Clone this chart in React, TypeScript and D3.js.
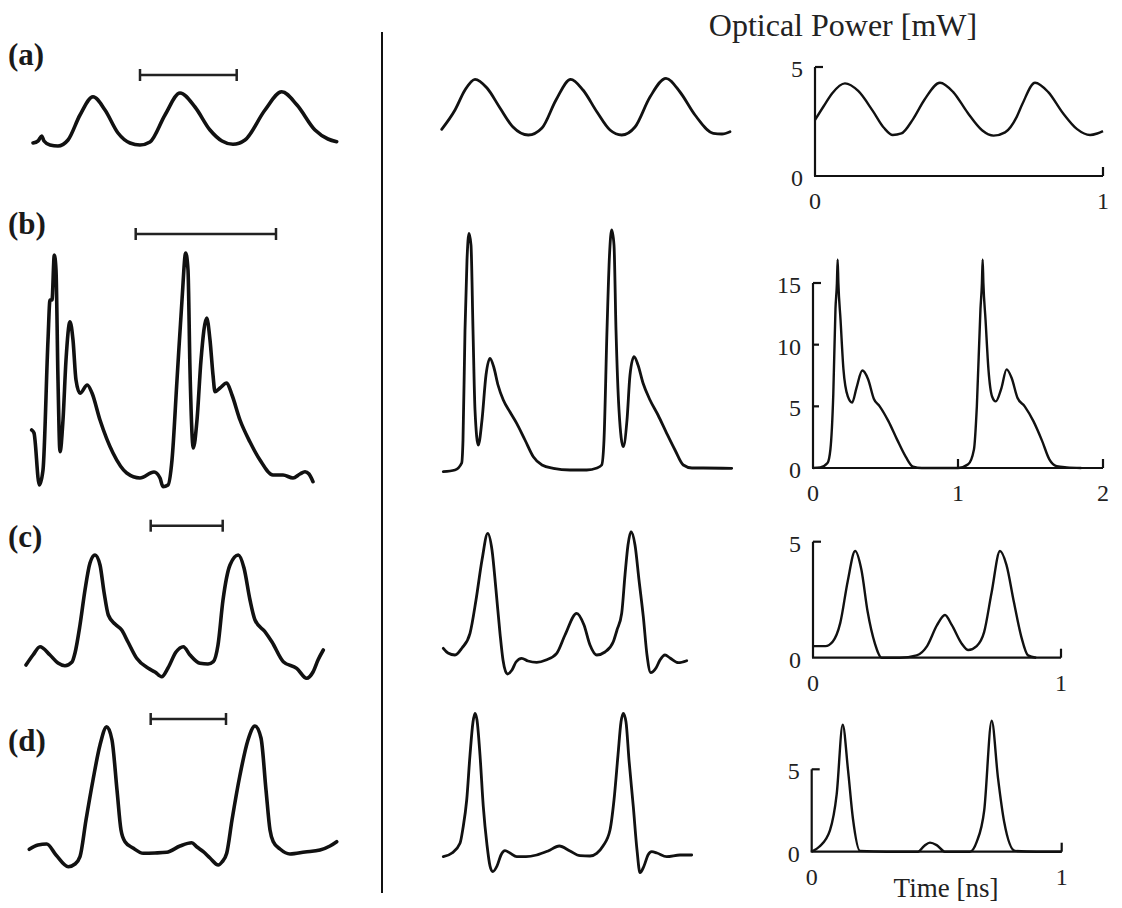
import React from "react";
import * as d3 from "d3";

// ---------- DATA ----------
// Left column (measured traces), arbitrary units: [time, intensity]
const leftA: [number, number][] = [
  [1.3, 0.7], [1.8, 0.9], [2.17, 1.4], [2.4, 0.9], [3.0, 0.5], [3.8, 0.4], [4.8, 1.0], [6.0, 3.5],
  [7.3, 5.33], [8.5, 4.0], [9.8, 1.7], [11.0, 0.7], [12.0, 0.5], [13.0, 0.8], [14.5, 3.5], [16.0, 5.7],
  [17.5, 4.3], [19.0, 2.0], [20.2, 0.9], [21.3, 0.57], [22.5, 1.0], [24.5, 4.0], [26.17, 5.83],
  [27.7, 4.5], [29.5, 2.0], [30.8, 1.1], [31.67, 0.83],
];
const leftB: [number, number][] = [
  [1.17, 6.0], [1.4, 5.7], [1.93, 0.5], [2.3, 2.0], [2.8, 15.0], [3.0, 19.0], [3.2, 19.0], [3.43, 23.5],
  [3.6, 22.0], [3.8, 11.0], [4.0, 3.83], [4.3, 7.0], [4.6, 13.0], [5.0, 16.83], [5.3, 15.0], [5.6, 11.0],
  [6.0, 9.67], [6.73, 10.5], [7.2, 9.7], [8.0, 7.0], [9.3, 3.7], [10.67, 1.7], [12.0, 1.2], [13.4, 1.8],
  [14.0, 1.2], [14.3, 0.33], [14.8, 0.5], [15.2, 3.0], [15.7, 11.0], [16.2, 19.0], [16.57, 23.7],
  [16.8, 22.0], [17.0, 12.0], [17.33, 4.2], [17.7, 7.0], [18.1, 13.0], [18.67, 17.2], [19.0, 15.0],
  [19.3, 11.5], [19.5, 9.83], [20.0, 10.2], [20.67, 10.7], [21.2, 9.5], [22.0, 7.0], [23.0, 4.8],
  [24.0, 3.0], [25.3, 1.5], [26.3, 1.5], [27.3, 1.2], [28.0, 1.6], [28.5, 1.83], [28.9, 1.6], [29.3, 0.83],
];
const leftC: [number, number][] = [
  [0.6, 1.5], [1.3, 2.5], [2.0, 3.33], [3.0, 2.5], [3.8, 1.7], [4.5, 1.43], [5.2, 1.8], [5.5, 2.7],
  [6.0, 5.5], [6.5, 9.0], [7.0, 11.7], [7.5, 12.5], [8.0, 11.5], [8.4, 8.8], [8.83, 6.5], [9.5, 5.6],
  [10.17, 5.0], [10.8, 3.8], [11.67, 2.17], [12.83, 1.17], [13.5, 0.8], [14.17, 0.33], [14.8, 1.2],
  [15.6, 2.8], [16.33, 3.33], [17.0, 2.5], [18.0, 1.67], [18.8, 1.6], [19.33, 1.83], [19.8, 3.5],
  [20.3, 8.0], [21.0, 11.5], [21.83, 12.5], [22.4, 11.2], [23.0, 8.0], [23.5, 6.0], [24.5, 4.83],
  [25.2, 3.8], [26.33, 1.83], [27.67, 1.17], [28.67, 0.17], [29.3, 0.8], [29.8, 2.0], [30.33, 3.0],
];
const leftD: [number, number][] = [
  [0.93, 2.57], [1.8, 3.0], [2.67, 3.1], [3.6, 2.0], [4.83, 0.83], [5.5, 1.1], [6.0, 1.83], [6.6, 5.5],
  [7.3, 9.5], [8.0, 13.0], [8.67, 14.83], [9.2, 13.5], [9.7, 8.5], [10.1, 4.5], [10.5, 3.33], [11.3, 2.7],
  [12.33, 2.17], [13.5, 2.2], [14.67, 2.27], [16.0, 2.9], [17.17, 3.23], [17.7, 2.8], [18.33, 2.33],
  [19.0, 1.7], [19.83, 1.0], [20.2, 1.3], [20.67, 2.17], [21.2, 5.5], [22.0, 10.0], [22.8, 13.5],
  [23.5, 14.9], [24.1, 13.7], [24.6, 8.5], [25.0, 4.5], [25.33, 3.33], [26.0, 2.6], [27.0, 2.1],
  [28.5, 2.3], [30.0, 2.5], [31.0, 2.9], [31.67, 3.33],
];
// Scale bars of the left column: [start, end, height]
const scaleBars: [number, number, number][] = [
  [12.0, 21.67, 7.5], [11.57, 25.6, 25.6], [13.07, 20.27, 15.43], [13.07, 20.6, 15.6],
];

// Middle column (simulated traces), arbitrary units
const midA: [number, number][] = [
  [0.17, 2.07], [1.5, 4.0], [2.5, 6.0], [3.5, 7.07], [4.7, 6.2], [6.0, 4.2], [7.3, 2.3], [8.83, 1.5],
  [10.2, 2.2], [11.6, 5.0], [13.07, 7.07], [14.3, 6.0], [15.7, 3.8], [17.0, 2.0], [18.17, 1.5],
  [19.5, 2.3], [21.0, 5.3], [22.6, 7.17], [24.0, 5.8], [25.5, 3.5], [27.33, 1.67], [28.2, 1.6], [29.0, 1.83],
];
const midB: [number, number][] = [
  [0.33, 1.83], [1.5, 2.0], [2.17, 2.7], [2.3, 5.0], [2.5, 16.0], [2.7, 23.0], [2.9, 25.67], [3.1, 24.5],
  [3.3, 16.0], [3.5, 8.0], [3.83, 4.5], [4.2, 7.0], [4.6, 11.5], [5.0, 13.17], [5.4, 12.2], [5.8, 10.5],
  [6.33, 9.0], [7.0, 7.8], [7.67, 6.67], [8.5, 5.0], [9.33, 3.33], [10.2, 2.5], [11.33, 2.17], [13.0, 2.0],
  [14.67, 2.0], [15.7, 2.2], [16.17, 2.5], [16.4, 5.0], [16.7, 16.0], [16.95, 23.5], [17.17, 26.0],
  [17.4, 24.5], [17.6, 16.0], [17.9, 8.0], [18.33, 4.33], [18.7, 7.0], [19.0, 11.5], [19.4, 13.33],
  [19.8, 12.5], [20.3, 10.7], [21.0, 9.0], [21.8, 7.5], [22.67, 5.67], [23.5, 4.0], [24.33, 2.5],
  [25.2, 2.2], [26.3, 2.2], [29.17, 2.17],
];
const midC: [number, number][] = [
  [0.33, 3.17], [0.8, 2.7], [1.5, 2.5], [2.2, 3.2], [3.0, 4.67], [3.6, 8.0], [4.2, 12.0], [4.77, 14.67],
  [5.2, 13.0], [5.6, 9.0], [6.0, 4.67], [6.3, 2.0], [6.73, 0.6], [7.2, 1.0], [7.6, 1.8], [8.17, 2.17],
  [8.8, 1.9], [9.67, 1.77], [10.6, 2.0], [11.67, 2.67], [12.5, 4.5], [13.67, 6.67], [14.4, 5.5],
  [15.0, 3.5], [15.67, 2.5], [16.5, 2.8], [17.33, 3.83], [17.7, 5.0], [18.17, 6.67], [18.5, 10.5],
  [18.8, 13.5], [19.1, 14.83], [19.5, 13.5], [19.9, 10.0], [20.33, 6.33], [20.7, 2.5], [21.07, 0.73],
  [21.6, 1.2], [22.0, 2.0], [22.5, 2.5], [23.0, 2.2], [23.83, 1.73], [24.67, 1.93],
];
const midD: [number, number][] = [
  [0.33, 1.83], [1.2, 2.2], [2.0, 3.17], [2.3, 4.7], [2.67, 7.5], [3.0, 12.0], [3.3, 15.3], [3.5, 16.17],
  [3.7, 15.5], [4.0, 12.0], [4.33, 6.83], [4.7, 3.0], [5.0, 0.9], [5.27, 0.33], [5.7, 0.9], [6.1, 2.0],
  [6.5, 2.43], [7.0, 2.2], [7.67, 1.83], [8.6, 1.83], [9.67, 2.0], [10.8, 2.4], [11.93, 2.9], [13.0, 2.4],
  [14.0, 1.93], [15.0, 1.9], [15.67, 2.17], [16.3, 2.9], [17.0, 4.5], [17.4, 7.5], [17.8, 12.0],
  [18.1, 15.3], [18.33, 16.17], [18.6, 15.3], [18.9, 11.5], [19.33, 6.83], [19.7, 2.5], [20.0, 0.23],
  [20.4, 0.9], [20.8, 2.0], [21.17, 2.33], [21.7, 2.2], [22.67, 1.83], [24.0, 2.0], [25.17, 2.0],
];

// Right column: time [ns], optical power [mW]
const rightA: [number, number][] = [
  [0, 2.57], [0.03, 3.2], [0.06, 3.8], [0.104, 4.25], [0.15, 3.9], [0.2, 3.0], [0.24, 2.2], [0.27, 1.88],
  [0.3, 1.95], [0.34, 2.6], [0.38, 3.5], [0.434, 4.28], [0.48, 3.85], [0.53, 2.9], [0.58, 2.1],
  [0.62, 1.85], [0.66, 2.0], [0.7, 2.7], [0.72, 3.3], [0.764, 4.28], [0.81, 3.85], [0.86, 2.9],
  [0.91, 2.15], [0.955, 1.88], [0.98, 1.95], [1.0, 2.06],
];
const rightB: [number, number][] = [
  [0, 0], [0.05, 0.05], [0.1, 0.4], [0.12, 1.5], [0.14, 6], [0.155, 12.9], [0.165, 15], [0.17, 16.9],
  [0.175, 15], [0.19, 12], [0.21, 8], [0.24, 5.8], [0.27, 5.3], [0.3, 6.5], [0.34, 7.9], [0.38, 7.2],
  [0.42, 5.6], [0.46, 5.0], [0.52, 3.8], [0.58, 2.3], [0.64, 0.9], [0.69, 0.1], [0.75, 0], [0.9, 0],
  [1.0, 0], [1.07, 0.3], [1.11, 1.5], [1.13, 5], [1.155, 12.9], [1.165, 15], [1.17, 16.9], [1.175, 15],
  [1.19, 12], [1.21, 8], [1.235, 5.8], [1.26, 5.4], [1.3, 6.5], [1.335, 8.0], [1.37, 7.3], [1.41, 5.7],
  [1.46, 5.0], [1.52, 3.8], [1.58, 2.2], [1.63, 0.7], [1.68, 0.15], [1.75, 0.05], [1.85, 0],
];
const rightC: [number, number][] = [
  [0, 0.5], [0.05, 0.5], [0.08, 0.7], [0.11, 1.5], [0.14, 3.3], [0.17, 4.6], [0.195, 3.8], [0.22, 2.0],
  [0.25, 0.6], [0.277, 0], [0.35, 0], [0.418, 0.1], [0.46, 0.5], [0.5, 1.4], [0.532, 1.84], [0.56, 1.4],
  [0.6, 0.6], [0.626, 0.33], [0.66, 0.5], [0.69, 1.1], [0.72, 2.8], [0.754, 4.6], [0.78, 4.0],
  [0.81, 2.4], [0.84, 0.9], [0.867, 0.1], [0.9, 0],
];
const rightD: [number, number][] = [
  [0, 0], [0.03, 0.3], [0.073, 1.3], [0.1, 3.5], [0.124, 7.7], [0.145, 5.0], [0.165, 2.0], [0.193, 0.05],
  [0.3, 0], [0.425, 0], [0.45, 0.35], [0.473, 0.55], [0.5, 0.4], [0.533, 0], [0.633, 0], [0.66, 0.6],
  [0.69, 2.5], [0.72, 7.95], [0.745, 4.5], [0.77, 1.8], [0.813, 0.05], [0.9, 0], [1.0, 0],
];

const rowLabels = ["(a)", "(b)", "(c)", "(d)"];
const yTicksA = [0, 5];
const yTicksB = [0, 5, 10, 15];
const yTicksC = [0, 5];
const yTicksD = [0, 5];
const xTicksA = [0, 1];
const xTicksB = [0, 1, 2];
const xTicksC = [0, 1];
const xTicksD = [0, 1];

// ---------- LAYOUT ----------
const W = 1122;
const H = 908;
const FONT = "'Liberation Serif', 'Times New Roman', serif";
const rowBase = [150, 490, 680, 875];
const rowLabelY = [65, 234, 547, 751];

const xLeft = d3.scaleLinear().domain([0, 32]).range([20, 340]);
const xMid = d3.scaleLinear().domain([0, 30]).range([440, 740]);
const yRow = (i: number) => d3.scaleLinear().domain([0, 30]).range([rowBase[i], rowBase[i] - 300]);

const line = (xs: d3.ScaleLinear<number, number>, ys: d3.ScaleLinear<number, number>) =>
  d3
    .line<[number, number]>()
    .x((d) => xs(d[0]))
    .y((d) => ys(d[1]))
    .curve(d3.curveMonotoneX);

type RightCfg = {
  data: [number, number][];
  xDom: [number, number];
  xRange: [number, number];
  yTop: number;
  yRange: [number, number];
  yTicks: number[];
  xTicks: number[];
};

const rightPanels: RightCfg[] = [
  { data: rightA, xDom: [0, 1], xRange: [815, 1103], yTop: 5, yRange: [176, 67], yTicks: yTicksA, xTicks: xTicksA },
  { data: rightB, xDom: [0, 2], xRange: [813, 1103], yTop: 15, yRange: [468, 283], yTicks: yTicksB, xTicks: xTicksB },
  { data: rightC, xDom: [0, 1], xRange: [813, 1061], yTop: 5, yRange: [657.7, 541.7], yTicks: yTicksC, xTicks: xTicksC },
  { data: rightD, xDom: [0, 1], xRange: [811.7, 1061.7], yTop: 5, yRange: [851.7, 769.3], yTicks: yTicksD, xTicks: xTicksD },
];

function RightPanel({ cfg }: { cfg: RightCfg }) {
  const x = d3.scaleLinear().domain(cfg.xDom).range(cfg.xRange);
  const y = d3.scaleLinear().domain([0, cfg.yTop]).range(cfg.yRange);
  const x0 = x(cfg.xDom[0]);
  const x1 = x(cfg.xDom[1]);
  const y0 = y(0);
  return (
    <g>
      <path d={line(x, y)(cfg.data) || ""} fill="none" stroke="#111" strokeWidth={2.4} strokeLinejoin="round" />
      <line x1={x0} x2={x0} y1={y0} y2={y(cfg.yTop)} stroke="#111" strokeWidth={2.2} />
      <line x1={x0 - 1} x2={x1} y1={y0} y2={y0} stroke="#111" strokeWidth={2.2} />
      {cfg.yTicks
        .filter((t) => t > 0)
        .map((t) => (
          <line key={t} x1={x0} x2={x0 + (t === cfg.yTop ? 8 : 6)} y1={y(t)} y2={y(t)} stroke="#111" strokeWidth={2.2} />
        ))}
      {cfg.xTicks
        .filter((t) => t > 0)
        .map((t) => (
          <line key={t} x1={x(t)} x2={x(t)} y1={y0} y2={y0 - 9} stroke="#111" strokeWidth={2.2} />
        ))}
      {cfg.yTicks.map((t) => (
        <text key={t} x={x0 - 12} y={y(t) + 10} textAnchor="end" fontSize={24} fontFamily={FONT} fill="#222">
          {t}
        </text>
      ))}
      {cfg.xTicks.map((t) => (
        <text key={t} x={x(t)} y={y0 + 33} textAnchor="middle" fontSize={24} fontFamily={FONT} fill="#222">
          {t}
        </text>
      ))}
    </g>
  );
}

export default function App() {
  const leftData = [leftA, leftB, leftC, leftD];
  const midData = [midA, midB, midC, midD];
  return (
    <svg width={W} height={H} style={{ display: "block", position: "absolute", left: 0, top: 0 }}>
      <rect width={W} height={H} fill="#fff" />
      <text x={843} y={36} textAnchor="middle" fontSize={32} fontFamily={FONT} fill="#222">
        Optical Power [mW]
      </text>
      <line x1={382} x2={382} y1={32} y2={893} stroke="#111" strokeWidth={2} />
      {rowLabels.map((l, i) => (
        <text key={l} x={8} y={rowLabelY[i]} fontSize={31} fontWeight="bold" fontFamily={FONT} fill="#1a1a1a">
          {l}
        </text>
      ))}
      {leftData.map((d, i) => (
        <path key={"l" + i} d={line(xLeft, yRow(i))(d) || ""} fill="none" stroke="#111" strokeWidth={3.6} strokeLinejoin="round" strokeLinecap="round" />
      ))}
      {scaleBars.map(([a, b, h], i) => {
        const ys = yRow(i);
        return (
          <g key={"s" + i} stroke="#222" strokeWidth={2.5}>
            <line x1={xLeft(a)} x2={xLeft(b)} y1={ys(h)} y2={ys(h)} />
            <line x1={xLeft(a)} x2={xLeft(a)} y1={ys(h) - 6} y2={ys(h) + 6} />
            <line x1={xLeft(b)} x2={xLeft(b)} y1={ys(h) - 6} y2={ys(h) + 6} />
          </g>
        );
      })}
      {midData.map((d, i) => (
        <path key={"m" + i} d={line(xMid, yRow(i))(d) || ""} fill="none" stroke="#111" strokeWidth={2.8} strokeLinejoin="round" strokeLinecap="round" />
      ))}
      {rightPanels.map((cfg, i) => (
        <RightPanel key={"r" + i} cfg={cfg} />
      ))}
      <text x={946} y={897} textAnchor="middle" fontSize={27} fontFamily={FONT} fill="#222">
        Time [ns]
      </text>
    </svg>
  );
}
